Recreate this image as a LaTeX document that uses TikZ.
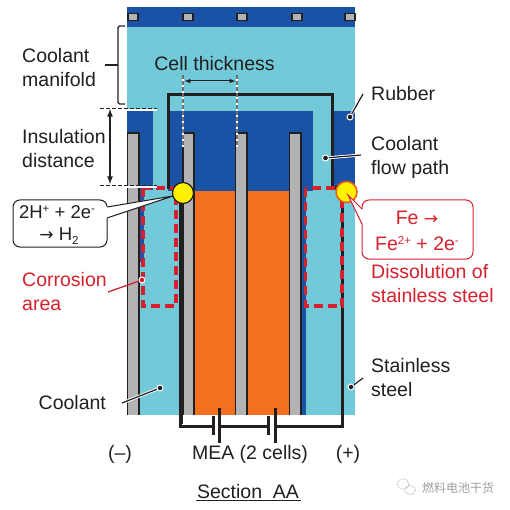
\documentclass[tikz,border=0pt]{standalone}
\usepackage{fontspec}
\setmainfont{Liberation Sans}
\newfontfamily\cjkf{Noto Sans CJK SC}
\newfontfamily\arrowf{DejaVu Sans}
\definecolor{lb}{HTML}{72CAD9}
\definecolor{db}{HTML}{1A52A6}
\definecolor{gy}{HTML}{B3B3B6}
\definecolor{og}{HTML}{F37021}
\definecolor{ink}{HTML}{231F20}
\definecolor{rd}{HTML}{D7202E}
\definecolor{yl}{HTML}{FFF200}
\newcommand{\supx}[1]{\raisebox{6pt}{\fontsize{11.5}{12}\selectfont #1}}
\newcommand{\subx}[1]{\raisebox{-3.5pt}{\fontsize{11.5}{12}\selectfont #1}}
\newcommand{\arr}{{\arrowf\fontsize{17}{20}\selectfont →}}
\tikzset{
 x=1pt,y=-1pt,
 lab/.style={align=left,anchor=west,font=\fontsize{19.5}{24}\selectfont,text=ink,inner sep=0pt},
 redlab/.style={lab,text=rd},
 plain/.style={font=\fontsize{19.5}{24}\selectfont,text=ink,inner sep=0pt},
 plate/.style={fill=gy,draw=ink,line width=1.3pt},
 wire/.style={draw=ink,line width=3pt},
 batt/.style={draw=ink,line width=3pt},
 spot/.style={circle,minimum size=6pt,inner sep=0pt,fill=ink,draw=white,line width=1pt},
 spotr/.style={circle,minimum size=6pt,inner sep=0pt,fill=rd,draw=white,line width=1pt},
 leader/.style={draw=ink,line width=1.2pt},
 corr/.style={draw=rd,line width=3.2pt,dash pattern=on 9pt off 5pt},
 bolt/.style={fill=gy,draw=ink,line width=1.3pt,minimum width=10pt,minimum height=7pt,inner sep=0pt},
 dimw/.style={draw=white,line width=2.6pt},
 dimk/.style={draw=ink,line width=1.1pt,dash pattern=on 4pt off 2pt},
 dimg/.style={draw=ink!65,line width=1.1pt,dash pattern=on 4pt off 2pt},
}
\begin{document}
\begin{tikzpicture}
\useasboundingbox (0,0) rectangle (509,510);
\fill[white] (0,0) rectangle (509,510);
% base
\fill[lb] (127,7) rectangle (355,415);
\fill[db] (127,7) rectangle (355,27);
\foreach \n/\x in {a/133,b/188,c/242,d/297,e/350}{\node[bolt] (bolt\n) at (\x,17) {};}
% rubber
\fill[db] (127,111) rectangle (153,190);
\fill[db] (168,111) rectangle (313,191);
\fill[db] (333,111) rectangle (355,190);
\fill[db] (139,190) rectangle (144,262);
\fill[db] (301,190) rectangle (306,415);
% orange
\fill[og] (194,191) rectangle (235,415);
\fill[og] (247,191) rectangle (289,415);
% plates
\draw[plate] (127.5,415) -- (127.5,133) -- (139,133) -- (139,415);
\draw[plate] (183,415) -- (183,133) -- (194,133) -- (194,415);
\draw[plate] (235.5,415) -- (235.5,133) -- (247,133) -- (247,415);
\draw[plate] (289.5,415) -- (289.5,133) -- (301,133) -- (301,415);
% stainless frame
\coordinate (bl) at (213.5,426);
\coordinate (bm1) at (219.5,426);
\coordinate (bm2) at (268.5,426);
\coordinate (br) at (275,426);
\draw[wire] (bl) -- (180.5,426) -- (180.5,188) -- (168,188) -- (168,94.5) -- (332,94.5) -- (332,188) -- (342.5,188) -- (342.5,426) -- (br);
\draw[wire,line width=4pt] (180.5,190) -- (180.5,424);
\draw[wire] (bm1) -- (bm2);
\draw[batt] (213.5,416) -- (213.5,435);
\draw[batt] (219.5,408) -- (219.5,443);
\draw[batt] (268.5,416) -- (268.5,435);
\draw[batt] (275,408) -- (275,443);
% corrosion boxes
\draw[corr] (143,188) rectangle (176,306);
\draw[corr] (305.5,188) rectangle (342,306);
% dims
\foreach \y in {108.5,185.5}{
 \draw[dimw] (100,\y+1.5) -- (157,\y+1.5);
 \draw[dimk] (100,\y) -- (157,\y);
}
\coordinate (ins1) at (110,109);
\coordinate (ins2) at (110,184);
\draw[ink,line width=1.6pt,<->,>={latex[scale=1.3]}] (ins1) -- (ins2);
\foreach \x in {183,237}{
 \draw[dimw] (\x,75) -- (\x,147);
 \draw[dimg] (\x,75) -- (\x,147);
}
\coordinate (th1) at (184.5,81);
\coordinate (th2) at (235.5,81);
\draw[ink,line width=1pt,<->,>=latex] (th1) -- (th2);
% manifold bracket
\coordinate (br1) at (125,26);
\coordinate (br2) at (125,104);
\coordinate (br3) at (105,65);
\draw[ink,line width=1.3pt,rounded corners=1.5pt] (br1) -- (118,26) -- (118,104) -- (br2);
\draw[ink,line width=1.3pt] (br3) -- (118,65);
% spots and callouts
\node[circle,fill=yl,draw=ink,line width=1.2pt,minimum size=21pt,inner sep=0pt] (ys1) at (183,193) {};
\draw[ink,line width=1pt,rounded corners=7pt,fill=white] (13,200) rectangle (107,247);
\coordinate (tl) at (173,196);
\fill[white] (106,206.5) -- (tl) -- (106,218.5) -- cycle;
\draw[ink,line width=1pt] (107,207) -- (tl) -- (107,218);
\node[font=\fontsize{18.5}{22}\selectfont,text=ink,align=center,inner sep=0pt] (cl) at (57,225) {2H\supx{+} + 2e\supx{-}\\\hspace*{4pt}\arr{} H\subx{2}};
\node[circle,fill=yl,draw=orange!60!rd,line width=1.5pt,minimum size=21pt,inner sep=0pt] (ys2) at (346.5,192) {};
\draw[rd,line width=1pt,rounded corners=7pt,fill=white] (362,200) rectangle (473,259);
\coordinate (tr) at (348,195);
\fill[white] (363,209.5) -- (tr) -- (363,224.5) -- cycle;
\draw[rd,line width=1pt] (362,209) -- (tr) -- (362,224);
\node[font=\fontsize{19.5}{26}\selectfont,text=rd,align=center,inner sep=0pt] (cr) at (417,231) {Fe \arr\\Fe\supx{2+} + 2e\supx{-}};
% labels
\node[lab] (lman) at (22,68) {Coolant\\manifold};
\node[lab] (lins) at (22,149) {Insulation\\distance};
\node[plain] (lcell) at (214.5,64) {Cell thickness};
\node[lab] (lrub) at (371,94) {Rubber};
\node[lab] (lflow) at (371,157) {Coolant\\flow path};
\node[redlab] (lcor) at (22,292) {Corrosion\\area};
\node[redlab] (ldis) at (371,284) {Dissolution of\\stainless steel};
\node[lab] (lsta) at (371,378) {Stainless\\steel};
\node[lab] (lcoo) at (38.5,403) {Coolant};
\node[plain] (lm) at (120,454) {(–)};
\node[plain] (lmea) at (250,454) {MEA (2 cells)};
\node[plain] (lp) at (348,454) {(+)};
\node[plain] (lsec) at (248,492) {Section\ \ AA};
\draw[ink,line width=1.4pt] (196,500.5) -- (301,500.5);
\node[font=\cjkf\fontsize{12}{14}\selectfont,text=gray!75,inner sep=0pt] (wm) at (458,488) {燃料电池干货};
\draw[gray!45,line width=0.8pt,dashed,dash pattern=on 2pt off 1pt] (403,484) ellipse (6 and 5);
\draw[gray!45,line width=0.8pt,dash pattern=on 2pt off 1pt] (410,490) ellipse (5.5 and 4.5);
% leaders
\node[spot] (s1) at (350,117) {};
\coordinate (s1e) at (363,94);
\draw[white,line width=3pt] (s1) -- (s1e);
\draw[leader] (s1) -- (s1e);
\node[spot] (s2) at (325.5,158) {};
\coordinate (s2e) at (361,155);
\draw[white,line width=3pt] (s2) -- (s2e);
\draw[leader] (s2) -- (s2e);
\node[spotr] (s3) at (142,280) {};
\coordinate (s3e) at (108,292);
\draw[rd,line width=1.3pt] (s3) -- (s3e);
\node[spot] (s4) at (160,388) {};
\coordinate (s4e) at (122,403);
\draw[white,line width=3pt] (s4) -- (s4e);
\draw[leader] (s4) -- (s4e);
\node[spot] (s5) at (351,387) {};
\coordinate (s5e) at (363,378);
\draw[leader] (s5) -- (s5e);
\end{tikzpicture}
\end{document}
